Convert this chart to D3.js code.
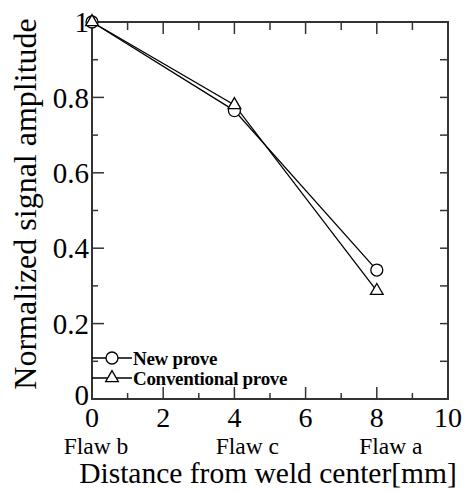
<!DOCTYPE html>
<html>
<head>
<meta charset="utf-8">
<script src="https://cdn.jsdelivr.net/npm/d3@7"></script>
<style>
  html, body { margin: 0; padding: 0; background: #fff; }
  svg { display: block; font-family: "Liberation Serif", "DejaVu Serif", serif; }
</style>
</head>
<body>
<svg id="chart" width="468" height="493"></svg>
<script>
// ── Data ─────────────────────────────────────────────
const distances   = [0, 4, 8];
const newProve    = [1.0, 0.765, 0.342];
const convProve   = [1.0, 0.78, 0.287];
const flawLabels  = ['Flaw b', 'Flaw c', 'Flaw a'];
const xTicks      = [0, 2, 4, 6, 8, 10];
const yTicks      = [0, 0.2, 0.4, 0.6, 0.8, 1];
const seriesNames = ['New prove', 'Conventional prove'];

const svg = d3.select('#chart');
const m = { left: 92, right: 20, top: 22, bottom: 94 };
const W = 468, H = 493;

const x = d3.scaleLinear().domain([0, 10]).range([m.left, W - m.right]);
const y = d3.scaleLinear().domain([0, 1]).range([H - m.bottom, m.top]);

const axisColor = '#333';

// ── Ticks (all inward) ───────────────────────────────
const g = svg.append('g');

function ticks(vals, len, where) {
  const sel = g.append('g').selectAll('line').data(vals).join('line')
    .attr('stroke', axisColor).attr('stroke-width', 1.5);
  if (where === 'bottom') sel.attr('x1', d => x(d)).attr('x2', d => x(d)).attr('y1', y(0)).attr('y2', y(0) - len);
  if (where === 'top')    sel.attr('x1', d => x(d)).attr('x2', d => x(d)).attr('y1', y(1)).attr('y2', y(1) + len);
  if (where === 'left')   sel.attr('y1', d => y(d)).attr('y2', d => y(d)).attr('x1', x(0)).attr('x2', x(0) + len);
  if (where === 'right')  sel.attr('y1', d => y(d)).attr('y2', d => y(d)).attr('x1', x(10)).attr('x2', x(10) - len);
}
const xMinor = d3.range(1, 10, 2);
const yMinor = [0.1, 0.3, 0.5, 0.7, 0.9];
ticks(xTicks, 12, 'bottom');
ticks(xMinor, 6, 'bottom');
ticks(xTicks, 12, 'top');
ticks(xMinor, 8, 'top');
ticks(yTicks, 12, 'left');
ticks(yMinor, 6, 'left');
ticks(yTicks, 8, 'right');
ticks(yMinor, 8, 'right');

// Frame
g.append('rect')
  .attr('x', x(0)).attr('y', y(1))
  .attr('width', x(10) - x(0)).attr('height', y(0) - y(1))
  .attr('fill', 'none').attr('stroke', axisColor).attr('stroke-width', 2);

// ── Tick labels ──────────────────────────────────────
svg.append('g').selectAll('text').data(yTicks).join('text')
  .attr('x', x(0) - 3).attr('y', d => y(d) - (d === 0 ? 4 : 0)).attr('dy', '0.35em')
  .attr('text-anchor', 'end').attr('font-size', 29)
  .text(d => d === 0 || d === 1 ? d : d3.format('.1f')(d));

svg.append('g').selectAll('text').data(xTicks).join('text')
  .attr('x', d => x(d)).attr('y', 427)
  .attr('text-anchor', 'middle').attr('font-size', 28)
  .text(d => d);

// Flaw labels under distances
const flawShift = [4, 13, 14];
svg.append('g').selectAll('text').data(distances).join('text')
  .attr('x', (d, i) => x(d) + flawShift[i]).attr('y', 454)
  .attr('text-anchor', 'middle').attr('font-size', 23.5)
  .text((d, i) => flawLabels[i]);

// Axis titles
svg.append('text')
  .attr('x', 268).attr('y', 483)
  .attr('text-anchor', 'middle').attr('font-size', 29.5)
  .text('Distance from weld center[mm]');

svg.append('text')
  .attr('transform', 'translate(36,204) rotate(-90)')
  .attr('text-anchor', 'middle').attr('font-size', 32)
  .text('Normalized signal amplitude');

// ── Series ───────────────────────────────────────────
const line = d3.line().x(d => x(d[0])).y(d => y(d[1]));
const ptsNew  = distances.map((d, i) => [d, newProve[i]]);
const ptsConv = distances.map((d, i) => [d, convProve[i]]);

[ptsNew, ptsConv].forEach(pts => {
  svg.append('path').datum(pts).attr('d', line)
    .attr('fill', 'none').attr('stroke', '#000').attr('stroke-width', 1.3);
});

const circle   = d3.symbol().type(d3.symbolCircle).size(Math.PI * 36);
const triangle = d3.symbol().type(d3.symbolTriangle).size(70);

svg.append('g').selectAll('path').data(ptsNew).join('path')
  .attr('d', circle)
  .attr('transform', d => `translate(${x(d[0])},${y(d[1])})`)
  .attr('fill', '#fff').attr('stroke', '#000').attr('stroke-width', 1.3);

svg.append('g').selectAll('path').data(ptsConv).join('path')
  .attr('d', triangle)
  .attr('transform', d => `translate(${x(d[0])},${y(d[1])})`)
  .attr('fill', '#fff').attr('stroke', '#000').attr('stroke-width', 1.3);

// ── Legend ───────────────────────────────────────────
const leg = svg.append('g');
const legY = [358, 378];
const shapes = [circle, triangle];
seriesNames.forEach((name, i) => {
  leg.append('line')
    .attr('x1', x(0)).attr('x2', x(0) + 40)
    .attr('y1', legY[i]).attr('y2', legY[i])
    .attr('stroke', '#000').attr('stroke-width', 1.3);
  leg.append('path')
    .attr('d', shapes[i]())
    .attr('transform', `translate(${x(0) + 20},${legY[i]})`)
    .attr('fill', '#fff').attr('stroke', '#000').attr('stroke-width', 1.3);
  leg.append('text')
    .attr('x', x(0) + 41).attr('y', legY[i]).attr('dy', '0.35em')
    .attr('font-size', 19).attr('font-weight', 'bold')
    .attr('letter-spacing', -0.3)
    .text(name);
});
</script>
</body>
</html>
